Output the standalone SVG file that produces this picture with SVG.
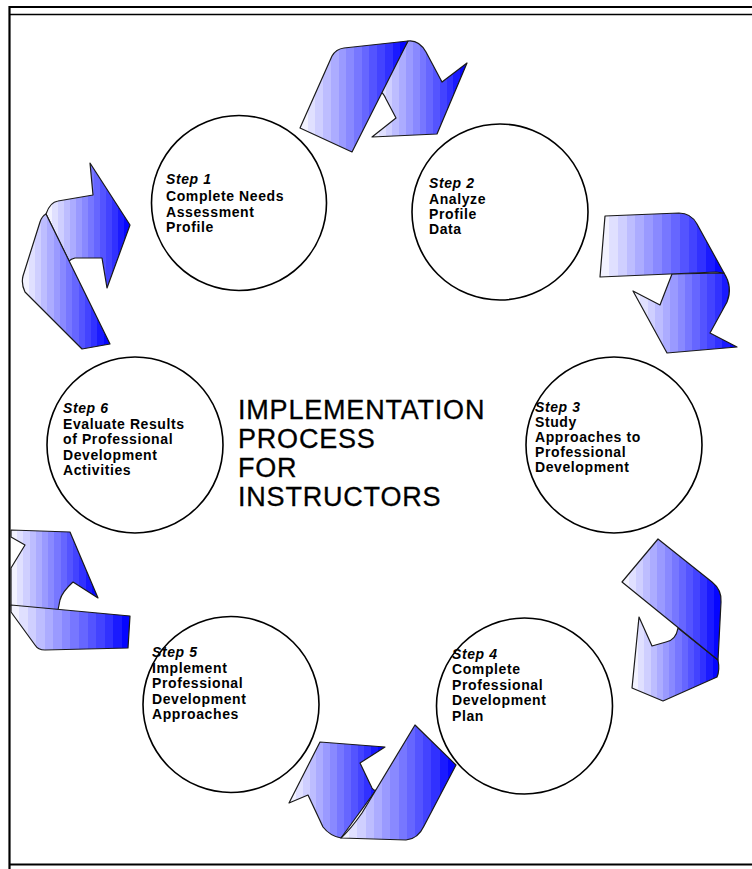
<svg xmlns="http://www.w3.org/2000/svg" width="752" height="869" viewBox="0 0 752 869">
  <style>
    .frame { stroke: #000; fill: none; }
    .circle { fill: #fff; stroke: #000; stroke-width: 1.6; }
    .ribbon { fill: url(#band); stroke: #1a1a1a; stroke-width: 1.2; stroke-linejoin: round; }
    .lbl { font-family: "Liberation Sans", Arial, sans-serif; font-size: 14px; font-weight: bold; letter-spacing: 0.6px; fill: #000; }
    .step { font-style: italic; }
    .title { font-family: "Liberation Sans", Arial, sans-serif; font-size: 27px; letter-spacing: 0.8px; fill: #000; stroke: #000; stroke-width: 0.3; }
  </style>
  <defs>
    <!-- banded white-to-blue shading used by every ribbon arrow -->
    <linearGradient id="band" x1="0" y1="0" x2="1" y2="0">
      <stop offset="0" stop-color="#f2f2ff"/><stop offset="0.071" stop-color="#f2f2ff"/>
      <stop offset="0.071" stop-color="#e0e0ff"/><stop offset="0.143" stop-color="#e0e0ff"/>
      <stop offset="0.143" stop-color="#cfcfff"/><stop offset="0.214" stop-color="#cfcfff"/>
      <stop offset="0.214" stop-color="#bdbdff"/><stop offset="0.286" stop-color="#bdbdff"/>
      <stop offset="0.286" stop-color="#acacff"/><stop offset="0.357" stop-color="#acacff"/>
      <stop offset="0.357" stop-color="#9a9aff"/><stop offset="0.429" stop-color="#9a9aff"/>
      <stop offset="0.429" stop-color="#8989ff"/><stop offset="0.5" stop-color="#8989ff"/>
      <stop offset="0.5" stop-color="#7777ff"/><stop offset="0.571" stop-color="#7777ff"/>
      <stop offset="0.571" stop-color="#6666ff"/><stop offset="0.643" stop-color="#6666ff"/>
      <stop offset="0.643" stop-color="#5454ff"/><stop offset="0.714" stop-color="#5454ff"/>
      <stop offset="0.714" stop-color="#4343ff"/><stop offset="0.786" stop-color="#4343ff"/>
      <stop offset="0.786" stop-color="#3131ff"/><stop offset="0.857" stop-color="#3131ff"/>
      <stop offset="0.857" stop-color="#1a1aff"/><stop offset="0.929" stop-color="#1a1aff"/>
      <stop offset="0.929" stop-color="#0606ff"/><stop offset="1" stop-color="#0606ff"/>
    </linearGradient>
  </defs>

  <rect width="752" height="869" fill="#fff"/>

  <!-- page frame -->
  <g id="frame">
    <line class="frame" x1="9" y1="7" x2="752" y2="7" stroke-width="2.2"/>
    <line class="frame" x1="9" y1="14.5" x2="752" y2="14.5" stroke-width="1.6" stroke="#333"/>
    <line class="frame" x1="9.5" y1="6" x2="9.5" y2="869" stroke-width="2.2"/>
    <line class="frame" x1="9" y1="864.5" x2="752" y2="864.5" stroke-width="2.2"/>
  </g>

  <!-- curled ribbon arrows running clockwise between the steps -->
  <g id="connectors">
    <g id="arrow-1-2">
      <path class="ribbon" d="M408,41 C416,40 422,45 426,52 L442,82 L467,63 L437,134 L372,137 L396,118 L386,99 Q383,92 379,91 Z"/>
      <path class="ribbon" d="M300,128 L332,56 Q336,49 344,48 L408,41 L352,152 Z"/>
    </g>
    <g id="arrow-2-3">
      <path class="ribbon" d="M672,274 L660,305 L633,291 L667,353 L737,347 L710,333 L727,302 Q733,287 724,273 Z"/>
      <path class="ribbon" d="M605,216 L679,213 Q691,213 697,224 L724,273 L716,272 L600,277 Z"/>
    </g>
    <g id="arrow-3-4">
      <path class="ribbon" d="M678,628 Q676,640 666,642 L652,646 L639,617 L632,688 L663,701 L717,677 Q720,670 718,660 Z"/>
      <path class="ribbon" d="M658,539 L712,582 Q722,590 721,602 L718,660 L622,582 Z"/>
    </g>
    <g id="arrow-4-5">
      <path class="ribbon" d="M320,742 L385,747 L360,763 L372,788 Q374,791 376,790 L341,838 Q330,836 323,827 L308,795 L289,803 Z"/>
      <path class="ribbon" d="M415,725 L456,765 L424,826 Q418,839 406,840 L341,838 Q350,830 362,813 Z"/>
    </g>
    <g id="arrow-5-6">
      <path class="ribbon" d="M11,530 L70,532 L98,598 L73,582 Q62,592 60,600 L58,610 L11,606 L11,568 L25,545 L11,537 Z"/>
      <path class="ribbon" d="M11,605 L130,616 L128,648 L45,650 Q38,650 35,645 L11,612 Z"/>
    </g>
    <g id="arrow-6-1">
      <path class="ribbon" d="M46,214 Q50,202 58,201 L93,195 L90,163 L130,225 L107,288 L102,258 L75,258 Q71,259 69,261 Z"/>
      <path class="ribbon" d="M46,214 L110,344 L82,349 L25,292 Q21,284 23,276 L40,222 Q42,216 46,214 Z"/>
    </g>
  </g>

  <!-- step nodes -->
  <g id="step1">
    <circle class="circle" cx="239" cy="203" r="87.5"/>
    <text class="lbl"><tspan class="step" x="166" y="184">Step 1</tspan><tspan x="166" y="200.5">Complete Needs</tspan><tspan x="166" y="216.5">Assessment</tspan><tspan x="166" y="232">Profile</tspan></text>
  </g>
  <g id="step2">
    <circle class="circle" cx="500" cy="212" r="88"/>
    <text class="lbl"><tspan class="step" x="429" y="188">Step 2</tspan><tspan x="429" y="203.5">Analyze</tspan><tspan x="429" y="219">Profile</tspan><tspan x="429" y="234">Data</tspan></text>
  </g>
  <g id="step3">
    <circle class="circle" cx="614" cy="445" r="88"/>
    <text class="lbl"><tspan class="step" x="535" y="411.5">Step 3</tspan><tspan x="535" y="426.5">Study</tspan><tspan x="535" y="441.5">Approaches to</tspan><tspan x="535" y="456.5">Professional</tspan><tspan x="535" y="471.5">Development</tspan></text>
  </g>
  <g id="step4">
    <circle class="circle" cx="524.5" cy="706" r="88"/>
    <text class="lbl"><tspan class="step" x="452" y="659">Step 4</tspan><tspan x="452" y="674">Complete</tspan><tspan x="452" y="689.5">Professional</tspan><tspan x="452" y="705">Development</tspan><tspan x="452" y="720.5">Plan</tspan></text>
  </g>
  <g id="step5">
    <circle class="circle" cx="231" cy="704.5" r="88"/>
    <text class="lbl"><tspan class="step" x="152" y="657">Step 5</tspan><tspan x="152" y="672.5">Implement</tspan><tspan x="152" y="688">Professional</tspan><tspan x="152" y="703.5">Development</tspan><tspan x="152" y="719">Approaches</tspan></text>
  </g>
  <g id="step6">
    <circle class="circle" cx="135" cy="445" r="88"/>
    <text class="lbl"><tspan class="step" x="63" y="413">Step 6</tspan><tspan x="63" y="428.5">Evaluate Results</tspan><tspan x="63" y="444">of Professional</tspan><tspan x="63" y="459.5">Development</tspan><tspan x="63" y="475">Activities</tspan></text>
  </g>

  <!-- centre heading -->
  <g id="title">
    <text class="title"><tspan x="238" y="419">IMPLEMENTATION</tspan><tspan x="238" y="448">PROCESS</tspan><tspan x="238" y="477">FOR</tspan><tspan x="238" y="506">INSTRUCTORS</tspan></text>
  </g>
</svg>
